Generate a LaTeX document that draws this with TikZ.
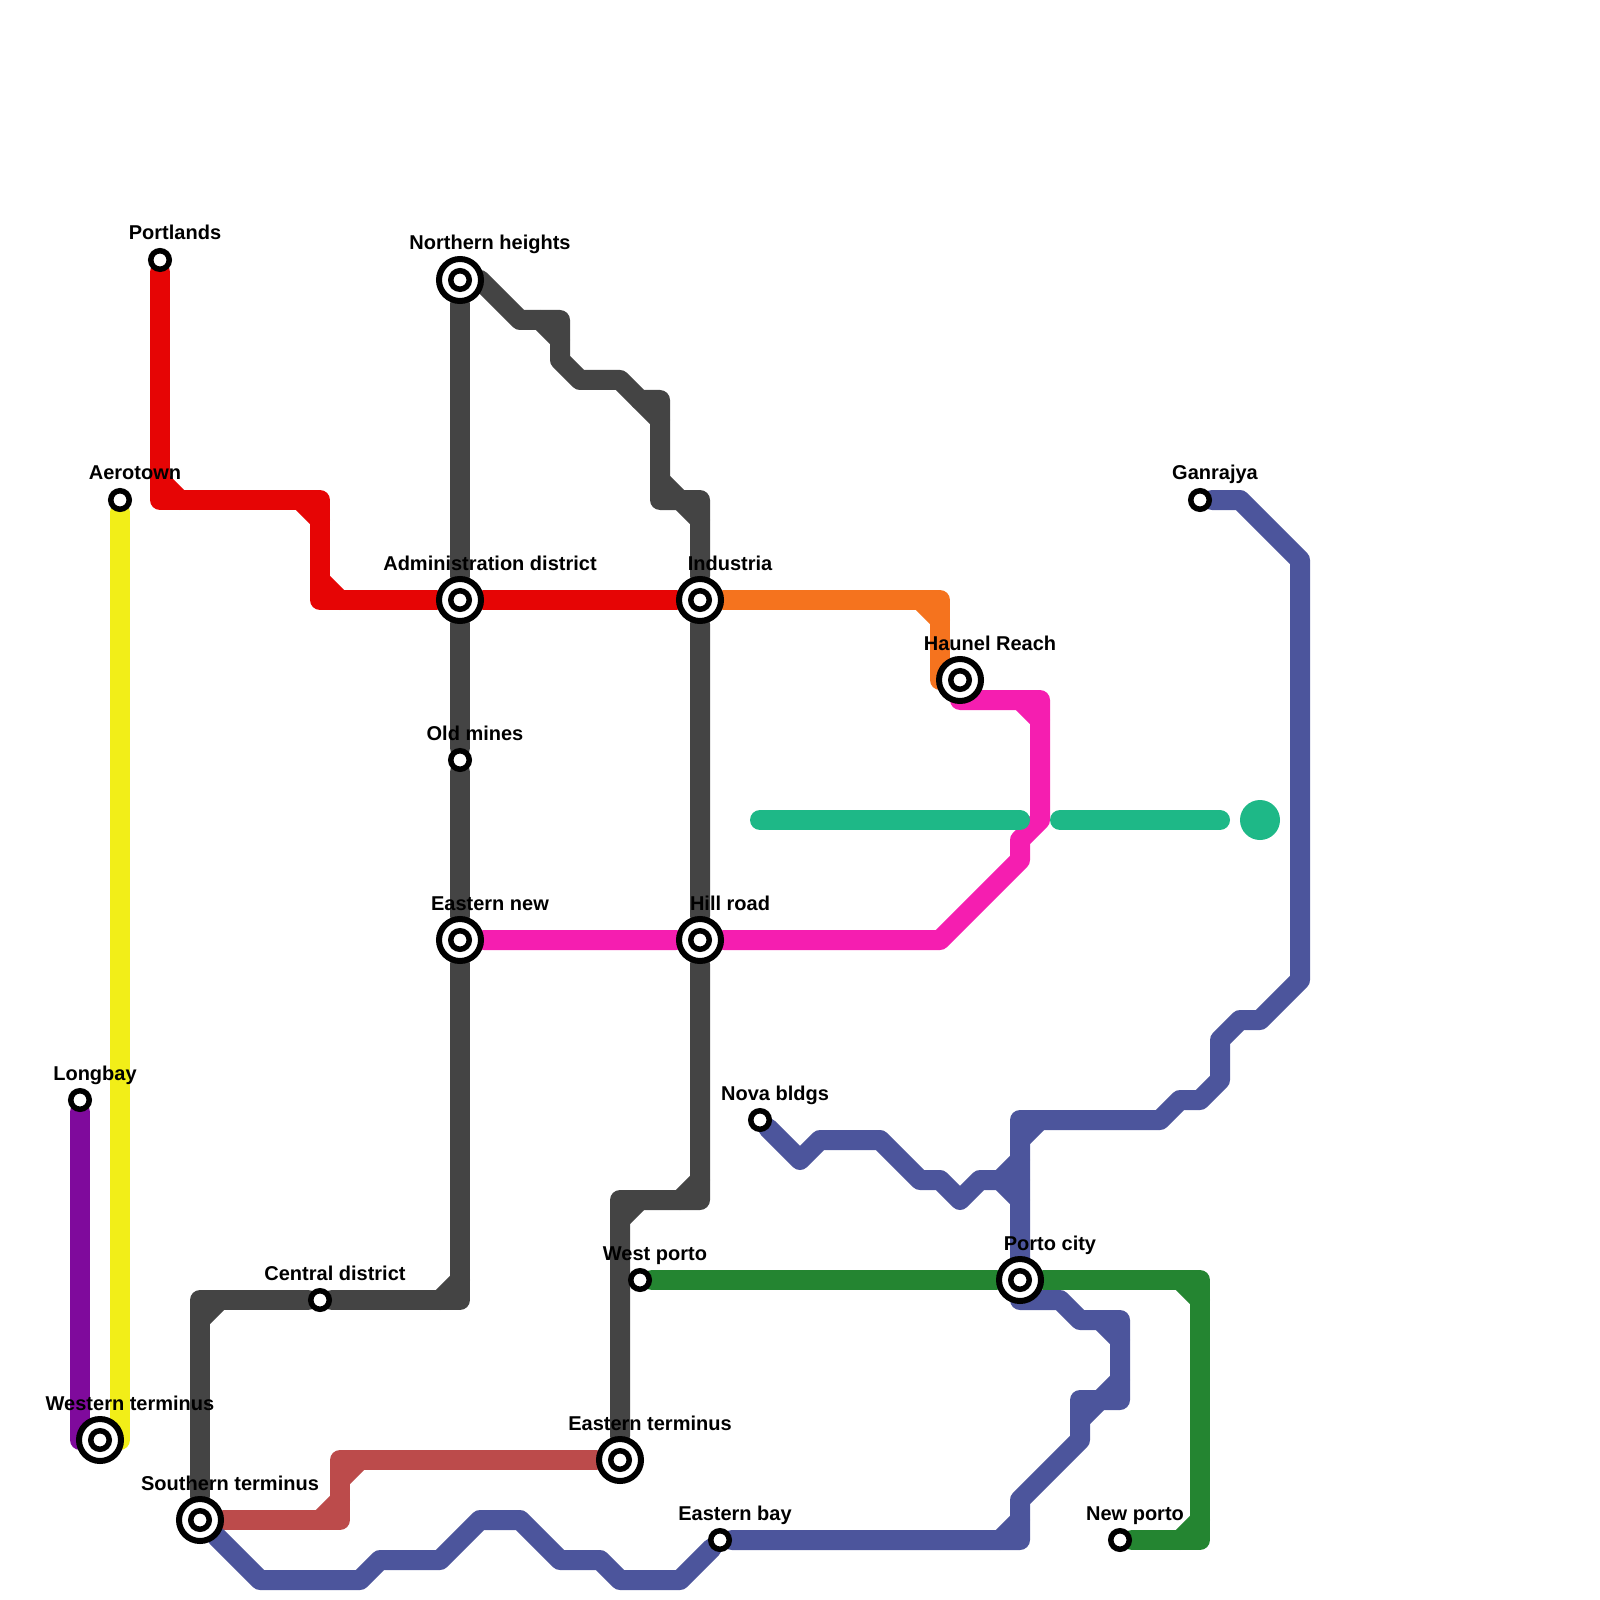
\documentclass[tikz,border=0pt]{standalone}
\usepackage{tikz}
\usepackage{xcolor}
\usepackage{fontspec}
\setmainfont{Liberation Sans}
\usetikzlibrary{positioning,backgrounds}

\definecolor{redline}{HTML}{E60505}
\definecolor{orangeline}{HTML}{F5731E}
\definecolor{pinkline}{HTML}{F51EB0}
\definecolor{tealline}{HTML}{1EB887}
\definecolor{purpleline}{HTML}{7F0A9C}
\definecolor{yellowline}{HTML}{F2EE18}
\definecolor{grayline}{HTML}{444444}
\definecolor{blueline}{HTML}{4C559C}
\definecolor{greenline}{HTML}{248531}
\definecolor{brownline}{HTML}{BC4B4B}

\tikzset{
    metro/.style={line width=2mm, line cap=round, line join=round},
    smallstop/.style={draw, circle, fill=white, line width=0.55mm, inner sep=0, minimum size=1.85mm},
    bigstop/.style={draw, circle, fill=white, line width=0.6mm, inner sep=0, minimum size=4.2mm,
        append after command={(\tikzlastnode.center) node[smallstop] (\tikzlastnode-ring) {}}},
    stoptext/.style={font=\fontsize{5.69}{6.8}\selectfont\bfseries, inner sep=0, outer sep=0, text depth=0pt},
    smalltext/.style={stoptext, xshift=1.5mm},
    bigtext/.style={stoptext, xshift=3mm}
}

\begin{document}
\begin{tikzpicture}[x=2mm, y=-2mm]
    \useasboundingbox (0,0) rectangle (80,80);

    \node[smallstop] (portlands) at (8,13) {};
    \node[smallstop] (aerotown) at (6,25) {};
    \node[smallstop] (longbay) at (4,55) {};
    \node[bigstop] (western) at (5,72) {};
    \node[bigstop] (southern) at (10,76) {};
    \node[smallstop] (central) at (16,65) {};
    \node[bigstop] (northern) at (23,14) {};
    \node[bigstop] (admin) at (23,30) {};
    \node[bigstop] (industria) at (35,30) {};
    \node[smallstop] (oldmines) at (23,38) {};
    \node[bigstop] (easternnew) at (23,47) {};
    \node[bigstop] (hillroad) at (35,47) {};
    \node[bigstop] (haunel) at (48,34) {};
    \node[smallstop] (ganrajya) at (60,25) {};
    \node[smallstop] (nova) at (38,56) {};
    \node[bigstop] (porto) at (51,64) {};
    \node[smallstop] (westporto) at (32,64) {};
    \node[bigstop] (easternterm) at (31,73) {};
    \node[smallstop] (easternbay) at (36,77) {};
    \node[smallstop] (newporto) at (56,77) {};

    \coordinate (tealstart) at (38,41);
    \coordinate (tealmid) at (51,41);
    \coordinate (tealnext) at (53,41);
    \coordinate (tealend) at (61,41);
    \node[circle, fill=tealline, inner sep=0, minimum size=4mm] (tealdot) at (63,41) {};

    \begin{scope}[on background layer]
        % grey lines
        \draw[metro, grayline] (northern) -- (admin) -- (oldmines) -- (easternnew) -- (23,65) -- (central) -- (10,65) -- (southern);
        \draw[metro, grayline] (22,65) -- (23,64) (11,65) -- (10,66);
        \draw[metro, grayline] (northern.center) -- (24,14) -- (26,16) -- (28,16) -- (28,18) -- (29,19) -- (31,19) -- (32,20) -- (33,20)
            -- (33,25) -- (35,25) -- (industria) -- (hillroad) -- (35,60) -- (31,60) -- (easternterm);
        \draw[metro, grayline] (27,16) -- (28,17) (32,20) -- (33,21) (33,24) -- (34,25) (34,25) -- (35,26) (35,59) -- (34,60) (32,60) -- (31,61);

        % red and orange
        \draw[metro, redline] (portlands) -- (8,25) -- (16,25) -- (16,30) -- (admin) -- (industria);
        \draw[metro, redline] (8,24) -- (9,25) (15,25) -- (16,26) (16,29) -- (17,30);
        \draw[metro, orangeline] (industria) -- (47,30) -- (47,34) -- (haunel.center);
        \draw[metro, orangeline] (46,30) -- (47,31);

        % brown
        \draw[metro, brownline] (southern) -- (17,76) -- (17,73) -- (easternterm);
        \draw[metro, brownline] (16,76) -- (17,75) (17,74) -- (18,73);

        % blue lines
        \draw[metro, blueline] (southern) -- (13,79) -- (18,79) -- (19,78) -- (22,78) -- (24,76) -- (26,76) -- (28,78) -- (30,78)
            -- (31,79) -- (34,79) -- (easternbay) -- (51,77) -- (51,75) -- (54,72) -- (54,70) -- (56,70) -- (56,66) -- (54,66)
            -- (53,65) -- (51,65) -- (porto.center) -- (51,56) -- (58,56) -- (59,55) -- (60,55) -- (61,54) -- (61,52) -- (62,51) -- (63,51)
            -- (65,49) -- (65,28) -- (62,25) -- (ganrajya);
        \draw[metro, blueline] (50,77) -- (51,76) (54,71) -- (56,69) (55,66) -- (56,67) (52,56) -- (51,57);
        \draw[metro, blueline] (nova) -- (40,58) -- (41,57) -- (44,57) -- (46,59) -- (47,59) -- (48,60) -- (49,59) -- (51,59);
        \draw[metro, blueline] (50,59) -- (51,58) (50,59) -- (51,60);

        % green
        \draw[metro, greenline] (westporto) -- (porto) -- (60,64) -- (60,77) -- (newporto);
        \draw[metro, greenline] (59,64) -- (60,65) (60,76) -- (59,77);

        % pink
        \draw[metro, pinkline] (haunel.center) -- (48,35) -- (52,35) -- (52,41) -- (51,42) -- (51,43) -- (47,47) -- (hillroad) -- (easternnew);
        \draw[metro, pinkline] (51,35) -- (52,36);

        % teal
        \draw[metro, tealline] (tealstart) -- (tealmid);
        \draw[metro, tealline] (tealnext) -- (tealend);

        % purple and yellow
        \draw[metro, purpleline] (longbay) -- (4,72) -- (western.center);
        \draw[metro, yellowline] (aerotown) -- (6,72) -- (western.center);
    \end{scope}

    \node[smalltext, above=0.8mm of portlands] (portlandstext) {Portlands};
    \node[smalltext, above=0.8mm of aerotown] (aerotowntext) {Aerotown};
    \node[smalltext, above=0.8mm of longbay] (longbaytext) {Longbay};
    \node[bigtext, above=0.6mm of western] (westerntext) {Western terminus};
    \node[bigtext, above=0.6mm of southern] (southerntext) {Southern terminus};
    \node[smalltext, above=0.8mm of central] (centraltext) {Central district};
    \node[bigtext, above=0.6mm of northern] (northerntext) {Northern heights};
    \node[bigtext, above=0.6mm of admin] (admintext) {Administration district};
    \node[bigtext, above=0.6mm of industria] (industriatext) {Industria};
    \node[smalltext, above=0.8mm of oldmines] (oldminestext) {Old mines};
    \node[bigtext, above=0.6mm of easternnew] (easternnewtext) {Eastern new};
    \node[bigtext, above=0.6mm of hillroad] (hillroadtext) {Hill road};
    \node[bigtext, above=0.6mm of haunel] (haunelstext) {Haunel Reach};
    \node[smalltext, above=0.8mm of ganrajya] (ganrajyatext) {Ganrajya};
    \node[smalltext, above=0.8mm of nova] (novatext) {Nova bldgs};
    \node[bigtext, above=0.6mm of porto] (portotext) {Porto city};
    \node[smalltext, above=0.8mm of westporto] (westportotext) {West porto};
    \node[bigtext, above=0.6mm of easternterm] (easterntermtext) {Eastern terminus};
    \node[smalltext, above=0.8mm of easternbay] (easternbaytext) {Eastern bay};
    \node[smalltext, above=0.8mm of newporto] (newportotext) {New porto};
\end{tikzpicture}
\end{document}
